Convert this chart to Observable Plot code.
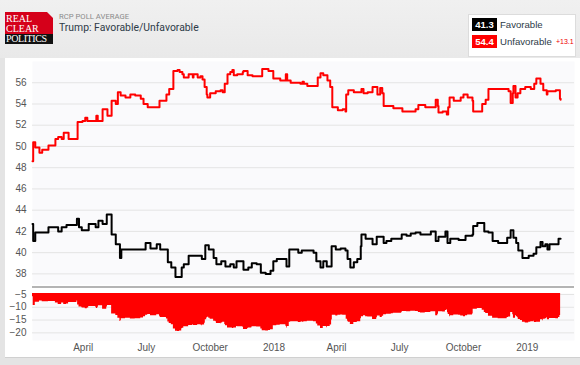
<!DOCTYPE html>
<html><head><meta charset="utf-8">
<script src="https://cdn.jsdelivr.net/npm/d3@7"></script>
<script src="https://cdn.jsdelivr.net/npm/@observablehq/plot@0.6"></script>
<style>
body{margin:0;width:580px;height:365px;overflow:hidden;background:#e4e4e4;font-family:Arial,"Liberation Sans",sans-serif;position:relative}
#header{position:absolute;left:0;top:0;width:580px;height:58px;background:linear-gradient(#f0f0f0,#e9e9e9)}
#panel{position:absolute;left:5px;top:58px;width:575px;height:299px;background:#fff;border-bottom:1px solid #d0d0d0}
#logo{position:absolute;left:5px;top:12px;width:48px;height:32px;overflow:hidden}
#logo .red{position:absolute;left:0;top:0;width:48px;height:22px;background:#d5001a}
#logo .blk{position:absolute;left:0;top:22px;width:48px;height:10px;background:#111}
#logo .t{position:absolute;left:1px;color:#fff;font-family:"Liberation Serif","DejaVu Serif",serif;white-space:nowrap}
#logo .fold{position:absolute;right:0;top:0;width:0;height:0;border-top:6px solid #eee;border-left:6px solid transparent}
#sub{position:absolute;left:59px;top:12px;font-size:7.7px;color:#8a8a8a;font-family:Roboto,Arial,sans-serif}
#title{position:absolute;left:59px;top:21px;font-size:10.4px;color:#2d3b48;font-family:Roboto,Arial,sans-serif}
#legend{position:absolute;left:468px;top:14px;width:108px;height:43px;background:#fff;border:1px solid #dcdcdc;box-sizing:border-box}
.sw{position:absolute;left:3px;width:25px;height:13px;color:#fff;font-size:9.5px;font-weight:bold;text-align:center;line-height:13px}
.lt{position:absolute;left:31px;font-size:9.6px;color:#2d3b48;line-height:13px}
#chg{position:absolute;left:87px;top:20px;font-size:7px;color:#e00;line-height:14px}
#topChart,#botChart{position:absolute;left:0}
#topChart{top:58px}
#botChart{top:288px}
#sep{position:absolute;left:32px;top:286px;width:542px;height:2px;background:#b4b4b4}
</style></head>
<body>
<div id="header"></div>
<div id="panel"></div>
<div id="logo"><div class="red"></div><div class="blk"></div>
<div class="t" style="top:2px;font-size:10px;line-height:9px">REAL</div>
<div class="t" style="top:12px;font-size:10px;line-height:9px">CLEAR</div>
<div class="t" style="top:22px;font-size:10px;line-height:10px;letter-spacing:-0.4px">POLITICS</div>
<div class="fold"></div></div>
<div id="sub">RCP POLL AVERAGE</div>
<div id="title">Trump: Favorable/Unfavorable</div>
<div id="legend">
<div class="sw" id="fsw" style="top:3px;background:#000"></div><div class="lt" style="top:3px">Favorable</div>
<div class="sw" id="usw" style="top:20px;background:#f00"></div><div class="lt" style="top:20px">Unfavorable</div>
<div id="chg"></div>
</div>
<div id="topChart"></div>
<div id="sep"></div>
<div id="botChart"></div>
<script>
const favDates = ["2017-01-18","2017-01-19","2017-01-22","2017-02-10","2017-02-24","2017-03-01","2017-03-08","2017-03-23","2017-03-26","2017-03-30","2017-04-09","2017-04-19","2017-04-23","2017-04-29","2017-05-05","2017-05-12","2017-05-18","2017-05-24","2017-05-26","2017-06-30","2017-07-07","2017-07-16","2017-07-21","2017-08-01","2017-08-06","2017-08-12","2017-08-21","2017-08-24","2017-08-31","2017-09-19","2017-09-24","2017-09-29","2017-10-06","2017-10-10","2017-10-17","2017-10-23","2017-10-30","2017-11-04","2017-11-08","2017-11-18","2017-11-25","2017-11-30","2017-12-07","2017-12-13","2017-12-20","2017-12-27","2017-12-31","2018-01-05","2018-01-19","2018-01-23","2018-02-05","2018-02-10","2018-02-27","2018-03-03","2018-03-09","2018-03-13","2018-03-18","2018-03-25","2018-03-31","2018-04-07","2018-04-14","2018-04-17","2018-04-21","2018-04-26","2018-05-01","2018-05-06","2018-05-07","2018-05-13","2018-05-23","2018-05-29","2018-06-08","2018-06-12","2018-06-19","2018-07-04","2018-07-11","2018-07-17","2018-07-24","2018-07-31","2018-08-15","2018-08-22","2018-08-26","2018-09-05","2018-09-08","2018-09-12","2018-09-24","2018-10-04","2018-10-14","2018-10-15","2018-10-21","2018-10-31","2018-11-06","2018-11-12","2018-11-20","2018-12-03","2018-12-08","2018-12-12","2018-12-16","2018-12-19","2018-12-25","2019-01-03","2019-01-10","2019-01-14","2019-01-20","2019-01-23","2019-01-27","2019-01-30","2019-02-02","2019-02-15","2019-02-18"];
const favValues = [42.7,41.1,41.9,42.4,42.0,42.4,42.6,43.2,42.4,42.1,42.7,42.4,43.0,42.7,43.6,41.7,40.8,39.5,40.3,40.9,40.4,40.8,40.3,39.1,38.6,37.7,38.6,38.9,39.7,39.4,40.7,40.3,39.5,38.9,39.2,38.7,38.9,38.6,39.2,38.4,38.6,39.0,38.9,38.1,38.0,38.3,39.2,39.4,38.7,40.3,40.0,40.2,40.0,39.2,38.6,39.2,38.7,40.6,40.3,40.4,40.2,39.4,38.6,39.1,39.4,40.6,41.7,41.3,40.8,41.5,40.9,41.1,41.3,41.7,41.6,41.8,41.9,41.7,42.0,41.1,41.5,42.0,40.9,41.3,41.2,41.6,41.7,42.5,42.8,42.0,41.9,41.1,40.9,41.4,42.1,41.4,40.9,40.2,39.5,39.7,39.9,40.5,41.0,40.6,40.8,40.3,40.8,41.3,41.3];

const unfDates = ["2017-01-18","2017-01-19","2017-01-22","2017-01-28","2017-02-01","2017-02-10","2017-02-20","2017-02-24","2017-03-01","2017-03-04","2017-03-11","2017-03-24","2017-03-31","2017-04-04","2017-04-07","2017-04-20","2017-04-22","2017-04-29","2017-05-06","2017-05-12","2017-05-18","2017-05-21","2017-05-25","2017-06-01","2017-06-08","2017-06-15","2017-06-23","2017-06-27","2017-07-03","2017-07-20","2017-07-30","2017-08-03","2017-08-09","2017-08-15","2017-08-18","2017-08-22","2017-08-24","2017-08-31","2017-09-06","2017-09-07","2017-09-13","2017-09-17","2017-09-20","2017-09-23","2017-09-26","2017-09-27","2017-10-01","2017-10-09","2017-10-16","2017-10-19","2017-10-22","2017-10-26","2017-10-30","2017-11-02","2017-11-04","2017-11-09","2017-11-17","2017-11-18","2017-11-24","2017-12-01","2017-12-15","2017-12-24","2017-12-31","2018-01-10","2018-01-18","2018-01-20","2018-01-25","2018-02-08","2018-02-11","2018-02-13","2018-02-18","2018-03-05","2018-03-09","2018-03-13","2018-03-19","2018-03-23","2018-03-26","2018-04-03","2018-04-10","2018-04-14","2018-04-15","2018-04-18","2018-04-26","2018-05-07","2018-05-10","2018-05-16","2018-05-23","2018-05-30","2018-06-03","2018-06-06","2018-06-08","2018-06-22","2018-07-05","2018-07-24","2018-07-28","2018-08-07","2018-08-22","2018-08-25","2018-08-26","2018-09-01","2018-09-07","2018-09-09","2018-09-11","2018-09-17","2018-09-27","2018-10-01","2018-10-07","2018-10-14","2018-10-15","2018-10-28","2018-11-02","2018-11-06","2018-12-05","2018-12-08","2018-12-11","2018-12-12","2018-12-15","2018-12-18","2018-12-22","2018-12-29","2019-01-06","2019-01-11","2019-01-14","2019-01-20","2019-01-24","2019-01-29","2019-01-30","2019-02-11","2019-02-17","2019-02-18"];
const unfValues = [48.6,50.4,49.9,49.4,49.7,50.1,50.7,50.9,50.7,51.3,50.7,52.3,52.4,52.7,52.4,52.9,52.4,53.5,52.9,54.3,54.0,55.1,54.8,54.6,54.9,54.8,54.5,54.0,53.7,54.3,54.9,55.4,57.1,57.2,57.0,56.8,56.5,56.8,56.5,56.8,56.5,56.6,56.3,55.6,54.9,54.6,55.0,55.2,55.3,55.1,55.9,56.8,57.0,57.2,56.7,56.8,57.0,57.1,56.7,56.6,57.3,57.1,56.4,56.2,56.8,56.2,56.0,55.9,56.1,55.9,55.7,56.5,56.9,56.7,56.2,55.6,53.7,53.4,53.5,53.3,54.9,55.3,55.1,55.4,55.0,55.1,55.6,54.9,55.5,55.0,53.8,53.6,53.3,53.5,53.9,53.7,54.4,53.8,53.2,53.3,53.0,53.7,54.6,54.3,54.6,54.9,54.6,54.3,53.3,54.0,54.4,55.4,55.2,54.1,55.0,55.7,54.6,55.0,55.4,55.6,55.4,55.9,56.4,55.9,55.3,54.9,55.2,55.3,54.5,54.4];

const xDomain = ["2017-01-18","2019-03-10"];
const topTicks = [38,40,42,44,46,48,50,52,54,56];
const spreadTicks = [-5,-10,-15,-20];
const xTickDates = ["2017-04-01","2017-07-01","2017-10-01","2018-01-01","2018-04-01","2018-07-01","2018-10-01","2019-01-01"];
const xTickLabels = ["April","July","October","2018","April","July","October","2019"];

const P = d => new Date(d + "T00:00:00Z");
const fav = favDates.map((d,i)=>({date:P(d), v:favValues[i]}));
const unf = unfDates.map((d,i)=>({date:P(d), v:unfValues[i]}));
// spread = favorable - unfavorable, evaluated at each date where either series changes
const bis = d3.bisector(d=>d.date).right;
const at = (arr, t) => arr[Math.max(0, bis(arr, t) - 1)].v;
const allT = Array.from(new Set([...fav, ...unf].map(d=>+d.date))).sort((a,b)=>a-b).map(t=>new Date(t));
const spread = allT.map(t => ({date:t, s: +(at(fav,t) - at(unf,t)).toFixed(1)}));

const dom = xDomain.map(P);
const tickTimes = xTickDates.map(P);
const font = "Arial, 'Liberation Sans', sans-serif";

const topPlot = Plot.plot({
  width: 580, height: 230,
  marginLeft: 32, marginRight: 6, marginTop: 3, marginBottom: 4,
  style: {background: "transparent", fontFamily: font, fontSize: "10px", color: "#555"},
  x: {type: "utc", domain: dom, axis: null},
  y: {domain: [37, 58], ticks: topTicks, tickSize: 0, tickPadding: 6, label: null, grid: false},
  marks: [
    Plot.frame({fill: "#fafafc", stroke: null}),
    Plot.ruleY(topTicks, {stroke: "#e4e4e4", strokeWidth: 1}),
    Plot.line(unf, {x: "date", y: "v", stroke: "#ff0000", strokeWidth: 2, curve: "step-after"}),
    Plot.line(fav, {x: "date", y: "v", stroke: "#000000", strokeWidth: 2, curve: "step-after"})
  ]
});
document.getElementById("topChart").appendChild(topPlot);

const botPlot = Plot.plot({
  width: 580, height: 70,
  marginLeft: 32, marginRight: 6, marginTop: 5, marginBottom: 18,
  style: {background: "transparent", fontFamily: font, fontSize: "10px", color: "#555"},
  x: {type: "utc", domain: dom, ticks: tickTimes, tickFormat: d => xTickLabels[tickTimes.findIndex(t=>+t===+d)], tickSize: 0, tickPadding: 3, label: null},
  y: {domain: [-23, -4.6], ticks: spreadTicks, tickSize: 0, tickPadding: 6, label: null},
  marks: [
    Plot.frame({fill: "#fafafc", stroke: null}),
    Plot.ruleY(spreadTicks, {stroke: "#e4e4e4", strokeWidth: 1}),
    Plot.areaY(spread, {x: "date", y1: "s", y2: 0, fill: "#ff0000", curve: "step-after", clip: true})
  ]
});
document.getElementById("botChart").appendChild(botPlot);

const lastFav = favValues[favValues.length-1], lastUnf = unfValues[unfValues.length-1];
document.getElementById("fsw").textContent = lastFav.toFixed(1);
document.getElementById("usw").textContent = lastUnf.toFixed(1);
document.getElementById("chg").textContent = "+" + (lastUnf - lastFav).toFixed(1);
</script>
</body></html>
